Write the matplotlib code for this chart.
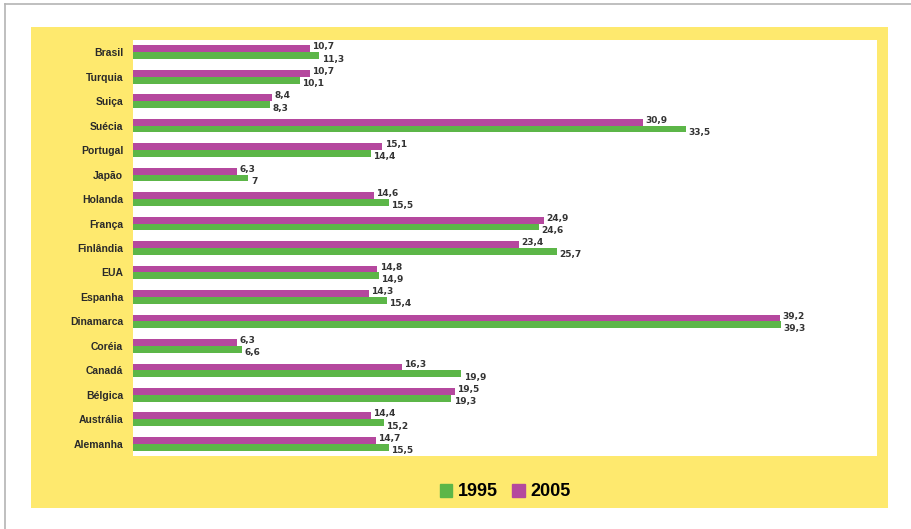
import numpy as np
import matplotlib.pyplot as plt
from matplotlib.patches import Rectangle, Patch
from matplotlib.lines import Line2D

#%% dados
paises = ['Brasil', 'Turquia', 'Suiça', 'Suécia', 'Portugal', 'Japão', 'Holanda',
          'França', 'Finlândia', 'EUA', 'Espanha', 'Dinamarca', 'Coréia',
          'Canadá', 'Bélgica', 'Austrália', 'Alemanha']
v1995 = [11.3, 10.1, 8.3, 33.5, 14.4, 7, 15.5, 24.6, 25.7, 14.9, 15.4, 39.3,
         6.6, 19.9, 19.3, 15.2, 15.5]
v2005 = [10.7, 10.7, 8.4, 30.9, 15.1, 6.3, 14.6, 24.9, 23.4, 14.8, 14.3, 39.2,
         6.3, 16.3, 19.5, 14.4, 14.7]

verde = '#5cb648'
magenta = '#b5489e'
amarelo = '#fee96e'

def fmt(v):
    return ('%g' % v).replace('.', ',')

#%% figura
W, H = 911, 529
fig = plt.figure(figsize=(W/100, H/100), dpi=100)
fig.patch.set_facecolor('white')

# moldura cinza (topo e esquerda)
fig.add_artist(Line2D([5/W, 1], [1-4/H, 1-4/H], color='#b4b4b4', lw=1.2))
fig.add_artist(Line2D([5/W, 5/W], [0, 1-4/H], color='#b4b4b4', lw=1.2))

# painel amarelo
fig.add_artist(Rectangle((31/W, 1-508/H), (888-31)/W, (508-27)/H,
                         facecolor=amarelo, edgecolor='none', zorder=0))

ax = fig.add_axes([133/W, 1-456/H, (877-133)/W, (456-40)/H])
ax.set_facecolor('white')

y = np.arange(len(paises))
h = 0.28
ax.barh(y - h/2, v2005, height=h, color=magenta)
ax.barh(y + h/2, v1995, height=h, color=verde)

for i in range(len(paises)):
    ax.text(v2005[i] + 0.15, y[i] - 0.22, fmt(v2005[i]), fontsize=6.5,
            fontweight='bold', color='#333333', va='center', ha='left')
    ax.text(v1995[i] + 0.15, y[i] + 0.28, fmt(v1995[i]), fontsize=6.5,
            fontweight='bold', color='#333333', va='center', ha='left')

ax.set_xlim(0, 45.1)
ax.set_ylim(len(paises) - 0.5, -0.5)
ax.set_xticks([])
ax.set_yticks(y)
ax.set_yticklabels(paises, fontsize=7.5, fontweight='bold', color='#2a2a2a',
                   family='Liberation Sans')
ax.tick_params(axis='y', length=0, pad=7)
for s in ax.spines.values():
    s.set_visible(False)

# legenda
handles = [Patch(color=verde, label='1995'), Patch(color=magenta, label='2005')]
fig.legend(handles=handles, loc='center', bbox_to_anchor=(505/W, 1-492/H),
           ncol=2, frameon=False, prop={'weight': 'bold', 'size': 13,
                                        'family': 'Liberation Sans'},
           handlelength=0.7, handleheight=0.7, handletextpad=0.3,
           columnspacing=0.8)

fig.savefig('out.png', dpi=100)
